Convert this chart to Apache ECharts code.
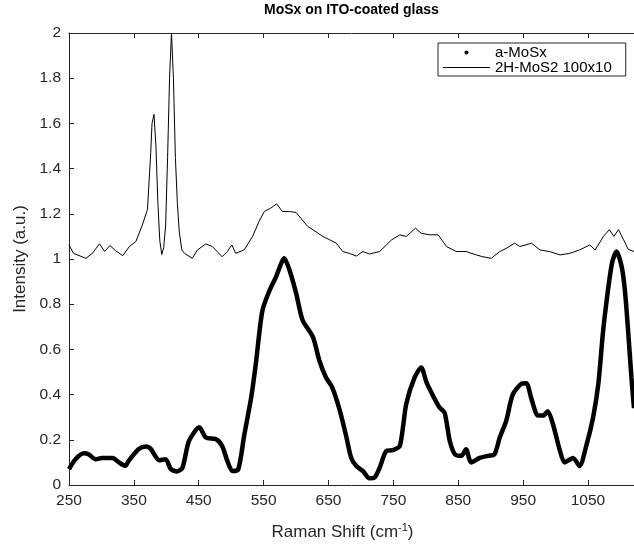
<!DOCTYPE html>
<html><head><meta charset="utf-8">
<script src="https://cdn.jsdelivr.net/npm/echarts@6/dist/echarts.min.js"></script>
<style>html,body{margin:0;padding:0;background:#fff}#c{width:634px;height:546px}</style>
</head><body><div id="c"></div>
<script>
// a-MoSx (dots)
const aMoSxShift = [250,260,273,280,291,301,317,327,337,342,358,369,376,389,399,407,417,425,435,451,461,476,486,494,502,511,520,531,538,548,559,569,582,590,600,610,626,636,646,656,667,677,685,693,703,713,721,729,739,749,760,770,783,793,801,811,821,829,837,845,855,862,870,883,896,906,914,924,934,947,955,963,973,981,988,996,1007,1014,1027,1037,1048,1058,1066,1073,1079,1087,1094,1102,1107,1112,1117,1121];
const aMoSxIntensity = [0.07,0.114,0.14,0.136,0.114,0.12,0.12,0.10,0.085,0.107,0.16,0.17,0.16,0.11,0.114,0.07,0.06,0.077,0.195,0.255,0.21,0.203,0.173,0.107,0.062,0.07,0.218,0.39,0.536,0.77,0.86,0.92,1.003,0.95,0.85,0.73,0.655,0.55,0.477,0.43,0.335,0.22,0.12,0.084,0.062,0.03,0.033,0.077,0.15,0.154,0.173,0.36,0.477,0.52,0.455,0.396,0.344,0.32,0.195,0.136,0.129,0.158,0.1,0.12,0.129,0.136,0.21,0.284,0.4,0.447,0.45,0.38,0.307,0.307,0.326,0.27,0.15,0.1,0.12,0.084,0.18,0.3,0.447,0.67,0.82,0.98,1.033,0.966,0.86,0.68,0.477,0.34];
// 2H-MoS2 100x10 (line)
const mos2Shift = [250,257,276,286,297,305,313,322,333,343,353,363,371,376,378,381,384,387,390,393,396,399,402,405,408,411,414,417,420,424,428,440,448,461,471,486,494,501,507,520,533,543,551,561,570,579,590,600,618,631,641,652,662,672,682,693,703,713,729,747,760,770,784,793,806,819,832,847,862,878,888,901,914,924,937,945,963,976,991,1007,1022,1037,1053,1061,1074,1083,1090,1097,1105,1112,1121];
const mos2Intensity = [1.062,1.025,1.003,1.025,1.067,1.033,1.06,1.036,1.015,1.055,1.077,1.15,1.22,1.47,1.6,1.64,1.5,1.25,1.08,1.02,1.05,1.15,1.45,1.8,2.0,1.8,1.45,1.25,1.12,1.04,1.025,1.003,1.04,1.067,1.055,1.01,1.033,1.062,1.025,1.04,1.1,1.166,1.21,1.225,1.244,1.21,1.21,1.206,1.144,1.12,1.1,1.085,1.07,1.033,1.025,1.013,1.033,1.022,1.033,1.084,1.107,1.1,1.136,1.114,1.107,1.107,1.055,1.033,1.033,1.018,1.01,1.003,1.033,1.047,1.07,1.055,1.07,1.04,1.033,1.018,1.025,1.04,1.062,1.04,1.1,1.13,1.1,1.13,1.085,1.043,1.033];
const seriesNames = ['a-MoSx', '2H-MoS2 100x10'];
const xMin = 250, xMax = 1121, xStep = 100;
const yMin = 0, yMax = 2, yStep = 0.2;

const font = 'Liberation Sans, Arial, Helvetica, sans-serif';
const axisColor = '#262626';
const zip = (xs, ys) => xs.map((x, i) => [x, ys[i]]);

const chart = echarts.init(document.getElementById('c'));
chart.setOption({
  animation: false,
  textStyle: { fontFamily: font },
  title: {
    text: 'MoSx on ITO-coated glass', left: 264, top: 3, padding: 0,
    textStyle: { fontFamily: font, fontSize: 14, fontWeight: 'bold', color: '#000' }
  },
  legend: {
    orient: 'vertical', left: 438, top: 43, itemWidth: 47, itemHeight: 4, itemGap: 0,
    padding: [2, 14, 1, 5], borderColor: axisColor, borderWidth: 1, backgroundColor: '#fff',
    textStyle: { fontFamily: font, fontSize: 15, color: '#000', lineHeight: 14 },
    data: [
      { name: seriesNames[0], icon: 'circle' },
      { name: seriesNames[1], icon: 'path://M0,0H47V1H0Z' }
    ]
  },
  grid: { left: 69, right: 0, top: 33, bottom: 61, containLabel: false },
  xAxis: [{
    type: 'value', position: 'bottom', min: xMin, max: xMax, interval: xStep,
    axisLine: { show: true, lineStyle: { color: axisColor, width: 1 } },
    axisTick: { show: true, inside: true, length: 5, lineStyle: { color: axisColor } },
    axisLabel: { show: true, showMaxLabel: false, color: axisColor, fontSize: 15.5, margin: 8, fontFamily: font,
      formatter: v => String(v) },
    splitLine: { show: false },
    name: 'Raman Shift (cm{sup|-1})', nameLocation: 'middle', nameGap: 37,
    nameTextStyle: { color: axisColor, fontSize: 17, fontFamily: font, padding: [0, 18, 0, 0],
      rich: { sup: { fontSize: 11, verticalAlign: 'top', color: axisColor, fontFamily: font, padding: [0,0,9,0] } } }
  }, {
    type: 'value', position: 'top', min: xMin, max: xMax, interval: xStep,
    axisLine: { show: true, lineStyle: { color: axisColor, width: 1 } },
    axisTick: { show: true, inside: true, length: 5, lineStyle: { color: axisColor } },
    axisLabel: { show: false }, splitLine: { show: false }
  }],
  yAxis: {
    type: 'value', min: yMin, max: yMax, interval: yStep,
    axisLine: { show: true, lineStyle: { color: axisColor, width: 1 } },
    axisTick: { show: true, inside: true, length: 5, lineStyle: { color: axisColor } },
    axisLabel: { color: axisColor, fontSize: 15.5, margin: 8, fontFamily: font },
    splitLine: { show: false },
    name: 'Intensity (a.u.)', nameLocation: 'middle', nameGap: 40, nameRotate: 90,
    nameTextStyle: { color: axisColor, fontSize: 17, fontFamily: font }
  },
  series: [{
    type: 'line', name: seriesNames[0], xAxisIndex: 0, data: zip(aMoSxShift, aMoSxIntensity),
    symbol: 'none', smooth: 0.25, lineStyle: { color: '#000', width: 4.5 }, itemStyle: { color: '#000' }
  }, {
    type: 'line', name: seriesNames[1], xAxisIndex: 0, data: zip(mos2Shift, mos2Intensity),
    symbol: 'none', lineStyle: { color: '#000', width: 1 }, itemStyle: { color: '#000' }
  }]
});
</script></body></html>
